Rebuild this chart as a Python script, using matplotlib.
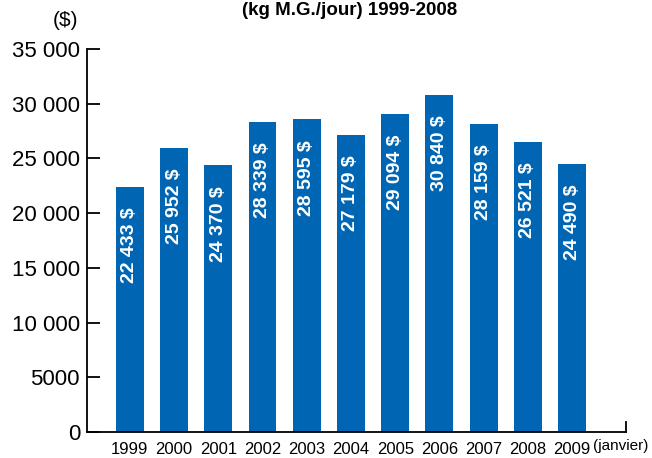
import matplotlib
matplotlib.use("Agg")
import matplotlib.pyplot as plt

plt.rcParams['font.family'] = ["Liberation Sans", "DejaVu Sans"]

years = ["1999", "2000", "2001", "2002", "2003", "2004", "2005", "2006", "2007", "2008", "2009"]
values = [22433, 25952, 24370, 28339, 28595, 27179, 29094, 30840, 28159, 26521, 24490]
yticks = [0, 5000, 10000, 15000, 20000, 25000, 30000, 35000]
ytick_labels = ["0", "5000", "10 000", "15 000", "20 000", "25 000", "30 000", "35 000"]
title = "(kg M.G./jour) 1999-2008"

def fmt(v):
    return f"{v:,}".replace(",", " ") + " $"

fig = plt.figure(figsize=(6.52, 4.58), dpi=100)
ax = fig.add_axes([87/652, 1-432/458, (626-87)/652, (432-49)/458])
x = list(range(len(years)))
ax.bar(x, values, width=0.63, color="#0066B3")
for xi, v in zip(x, values):
    ax.text(xi, v - 1900, fmt(v), rotation=90, ha="center", va="top",
            color="white", fontsize=14, fontweight="bold")

ax.set_xlim(-0.97, 11.22)
ax.set_ylim(0, 35000)
ax.set_yticks(yticks)
ax.set_yticklabels(ytick_labels, fontsize=16)
ax.set_xticks(x)
ax.set_xticklabels(years, fontsize=12)
ax.tick_params(axis="y", direction="in", length=9.5, width=1.3, pad=5)
ax.tick_params(axis="x", length=0, pad=7)
for s in ["top", "right"]:
    ax.spines[s].set_visible(False)
for s in ["left", "bottom"]:
    ax.spines[s].set_linewidth(1.3)
ax.plot([1, 1], [0, 0.025], transform=ax.transAxes, color="black", lw=1.3, clip_on=False)

ax.text(10.48, -0.018, "(janvier)", transform=ax.get_xaxis_transform(), ha="left", va="top", fontsize=11)
fig.text(65/652, 1-21/458, "($)", ha="center", va="center", fontsize=15)
fig.text(350/652, 1-15/458, title, ha="center", va="baseline", fontsize=13.5, fontweight="bold")

fig.savefig("out.png", dpi=100)
